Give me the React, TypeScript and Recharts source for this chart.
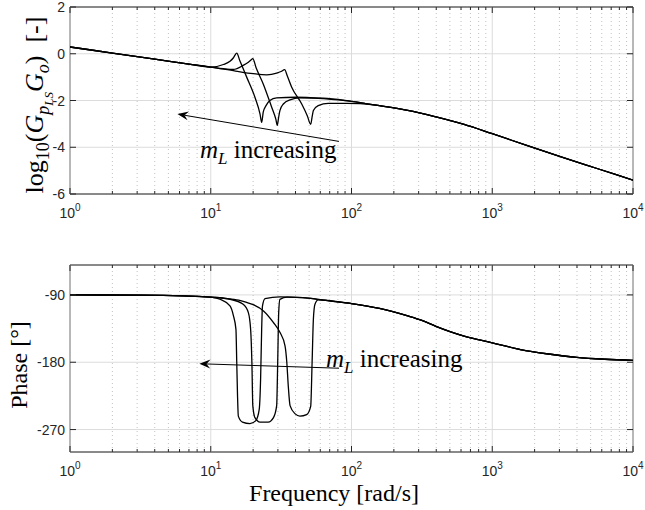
import React from "react";
import {
  LineChart,
  Line,
  XAxis,
  YAxis,
  CartesianGrid,
  ReferenceArea,
  ReferenceLine,
} from "recharts";

type Pt = [number, number];

// frequency ticks [rad/s]
const decades = [1, 10, 100, 1000, 10000];
const minorTicks = [
  2, 3, 4, 5, 6, 7, 8, 9, 20, 30, 40, 50, 60, 70, 80, 90, 200, 300, 400, 500,
  600, 700, 800, 900, 2000, 3000, 4000, 5000, 6000, 7000, 8000, 9000,
];
const allTicks = [...decades, ...minorTicks].sort((a, b) => a - b);

const magTicks = [-6, -4, -2, 0, 2];
const phaseTicks = [-270, -180, -90];

// log10 magnitude, [w, value]
const magLow: Pt[] = [[1, 0.29], [2, 0.03], [4, -0.23], [7, -0.44]];
const mag1: Pt[] = [
  [10, -0.57], [12.3, -0.46], [13.7, -0.32], [14.5, -0.17], [15.3, 0.03],
  [16.1, -0.3], [18, -1.0], [20.6, -1.86], [22.4, -2.58], [23, -2.94],
  [23.6, -2.5], [24.7, -2.22], [26.3, -2.0], [29.4, -1.89], [40, -1.86],
  [63, -1.92], [100, -2.04], [126, -2.13],
];
const mag2: Pt[] = [
  [10, -0.57], [12.3, -0.64], [14.5, -0.67], [17, -0.5], [18.5, -0.36],
  [19.3, -0.27], [19.9, -0.21], [21, -0.6], [23.6, -1.29], [27.1, -2.29],
  [29, -2.8], [29.7, -3.06], [30.3, -2.75], [31, -2.43], [32.8, -2.15],
  [36.6, -1.97], [43, -1.89], [63, -1.9], [100, -2.04], [126, -2.13],
];
const mag3: Pt[] = [
  [10, -0.57], [15, -0.74], [20, -0.85], [25, -0.9], [29.4, -0.83],
  [31.6, -0.76], [33.5, -0.68], [35, -0.95], [37.6, -1.43], [44.3, -2.15],
  [48.5, -2.65], [51.3, -3.02], [52.5, -2.7], [53.6, -2.43], [58, -2.22],
  [68.4, -2.12], [92.5, -2.12], [115, -2.13],
];
const magHigh: Pt[] = [
  [158, -2.22], [251, -2.42], [398, -2.7], [631, -3.02], [1000, -3.42],
  [1778, -3.93], [3162, -4.43], [5623, -4.92], [10000, -5.41],
];

// phase [deg], [w, value]
const phLow: Pt[] = [[1, -90], [3.16, -90.3], [6.3, -91.3], [10, -93]];
const ph1: Pt[] = [
  [11.6, -95.8], [13.7, -104.7], [14.5, -118], [15.1, -136], [15.3, -180],
  [15.5, -225], [15.7, -252], [16.8, -260], [19, -262], [20.9, -258],
  [22.1, -243], [22.6, -203], [23, -136], [23.3, -105], [24.3, -95],
  [31, -92.5], [45, -93.5], [56, -95.5],
];
const ph2: Pt[] = [
  [13.7, -95.8], [17, -102.5], [18.5, -113.6], [19.2, -136], [19.6, -180],
  [19.9, -238], [20.6, -254], [22.4, -260], [25.6, -260], [27.9, -254],
  [29.4, -238], [29.9, -180], [30.4, -113], [31, -96], [35, -93],
  [45, -93.5], [56, -95.5],
];
const ph3: Pt[] = [
  [12.6, -94.5], [15.8, -97], [18, -100], [20, -103], [23.7, -111.4],
  [27.9, -127], [31, -140], [33.7, -158], [34.7, -180], [35.5, -210],
  [36.6, -238], [39.8, -249], [43, -252], [48, -250], [51.3, -239],
  [52.5, -180], [53.6, -122.6], [55, -102.5], [58, -96.7],
];
const phHigh: Pt[] = [
  [63, -97], [100, -101.5], [158, -108], [251, -118], [316, -124],
  [398, -132], [501, -139], [631, -145], [1000, -154], [1585, -163],
  [2512, -169], [3981, -173.5], [6310, -176], [10000, -177.5],
];

const rows = (...parts: Pt[][]) => parts.flat().map(([w, v]) => ({ w, v }));

const magCurves = [
  rows(magLow, mag1, magHigh),
  rows(magLow, mag2, magHigh),
  rows(magLow, mag3, magHigh),
];
const phaseCurves = [
  rows(phLow, ph1, phHigh),
  rows(phLow, ph2, phHigh),
  rows(phLow, ph3, phHigh),
];

const INK = "#262626";
const PLOT_W = 563;
const PLOT_H = 187;
const SANS = "'Liberation Sans', Arial, sans-serif";
const SERIF = "'Liberation Serif', 'Times New Roman', serif";

function XTick(props: any) {
  const { x, y, payload } = props;
  const v = payload.value;
  const e = Math.round(Math.log10(v));
  const major = Math.abs(v - Math.pow(10, e)) < 1e-9;
  const len = major ? 6 : 3;
  return (
    <g>
      <line x1={x} x2={x} y1={y} y2={y - len} stroke={INK} />
      <line x1={x} x2={x} y1={y - PLOT_H} y2={y - PLOT_H + len} stroke={INK} />
      {major && (
        <text
          x={x}
          y={y + 24}
          textAnchor="middle"
          fontFamily={SANS}
          fontSize={14}
          fill={INK}
        >
          10
          <tspan dy={-7} fontSize={10}>
            {e}
          </tspan>
        </text>
      )}
    </g>
  );
}

function YTick(props: any) {
  const { x, y, payload } = props;
  return (
    <g>
      <line x1={x} x2={x + 6} y1={y} y2={y} stroke={INK} />
      <line x1={x + PLOT_W} x2={x + PLOT_W - 6} y1={y} y2={y} stroke={INK} />
      <text
        x={x - 5}
        y={y + 5}
        textAnchor="end"
        fontFamily={SANS}
        fontSize={14}
        fill={INK}
      >
        {payload.value}
      </text>
    </g>
  );
}

function arrowShape(tx: number, ty: number) {
  return (p: any) => {
    const { x1, y1, x2, y2 } = p;
    const a = Math.atan2(y2 - y1, x2 - x1);
    const c = Math.cos(a);
    const s = Math.sin(a);
    const L = 11;
    const hw = 4.5;
    const bx = x2 - L * c;
    const by = y2 - L * s;
    const nx = x2 - 0.65 * L * c;
    const ny = y2 - 0.65 * L * s;
    const d = `M${x2},${y2} L${bx - s * hw},${by + c * hw} L${nx},${ny} L${bx + s * hw},${by - c * hw} Z`;
    return (
      <g>
        <line x1={x1} y1={y1} x2={nx} y2={ny} stroke="#000" strokeWidth={1} />
        <path d={d} fill="#000" />
        <text x={x1 + tx} y={y1 + ty} fontFamily={SERIF} fontSize={25} fill="#000">
          <tspan fontStyle="italic">m</tspan>
          <tspan fontStyle="italic" fontSize={17} dy={6}>
            L
          </tspan>
          <tspan dy={-6}>{"\u00A0increasing"}</tspan>
        </text>
      </g>
    );
  };
}

type PanelProps = {
  curves: { w: number; v: number }[][];
  yDomain: [number, number];
  yTicks: number[];
  marginTop: number;
  arrow: { from: { x: number; y: number }; to: { x: number; y: number }; tx: number; ty: number };
};

function Panel({ curves, yDomain, yTicks, marginTop, arrow }: PanelProps) {
  return (
    <LineChart
      width={645}
      height={255}
      margin={{ top: marginTop, right: 12, left: 10, bottom: 255 - marginTop - PLOT_H - 30 }}
    >
      <XAxis
        dataKey="w"
        type="number"
        scale="log"
        domain={[1, 10000]}
        allowDataOverflow
        ticks={allTicks}
        interval={0}
        axisLine={false}
        tickLine={false}
        tickSize={0}
        tickMargin={0}
        height={30}
        tick={XTick}
      />
      <YAxis
        type="number"
        domain={yDomain}
        allowDataOverflow
        ticks={yTicks}
        interval={0}
        axisLine={false}
        tickLine={false}
        tickSize={0}
        tickMargin={0}
        width={60}
        tick={YTick}
      />
      <CartesianGrid vertical={false} stroke="#dcdcdc" />
      {minorTicks.map((t) => (
        <ReferenceLine key={`m${t}`} x={t} stroke="#c2c2c2" strokeDasharray="1 3" />
      ))}
      {decades.map((t) => (
        <ReferenceLine key={`d${t}`} x={t} stroke="#dcdcdc" />
      ))}
      {curves.map((d, i) => (
        <Line
          key={i}
          data={d}
          dataKey="v"
          type="monotone"
          stroke="#000"
          strokeWidth={1.3}
          dot={false}
          activeDot={false}
          isAnimationActive={false}
        />
      ))}
      <ReferenceArea
        x1={1}
        x2={10000}
        y1={yDomain[0]}
        y2={yDomain[1]}
        fill="none"
        stroke={INK}
        strokeWidth={1}
        ifOverflow="visible"
      />
      <ReferenceLine
        segment={[arrow.from, arrow.to]}
        ifOverflow="visible"
        shape={arrowShape(arrow.tx, arrow.ty)}
      />
    </LineChart>
  );
}

export default function App() {
  return (
    <div
      style={{
        position: "absolute",
        left: 0,
        top: 0,
        width: 645,
        height: 510,
        background: "#fff",
      }}
    >
      <div style={{ position: "absolute", left: 0, top: 0 }}>
        <Panel
          curves={magCurves}
          yDomain={[-6, 2]}
          yTicks={magTicks}
          marginTop={7}
          arrow={{ from: { x: 81.5, y: -3.75 }, to: { x: 5.8, y: -2.58 }, tx: -139, ty: 17 }}
        />
      </div>
      <div style={{ position: "absolute", left: 0, top: 255 }}>
        <Panel
          curves={phaseCurves}
          yDomain={[-300, -50]}
          yTicks={phaseTicks}
          marginTop={10}
          arrow={{ from: { x: 81.5, y: -188 }, to: { x: 8.3, y: -182 }, tx: -13, ty: -1 }}
        />
      </div>
      <svg
        width={645}
        height={510}
        style={{ position: "absolute", left: 0, top: 0, pointerEvents: "none" }}
        fontFamily={SERIF}
        fill="#000"
      >
        <text transform="rotate(-90)" x={-105} y={43} textAnchor="middle" fontSize={26}>
          log
          <tspan dy={6} fontSize={18}>10</tspan>
          <tspan dy={-6}>(</tspan>
          <tspan fontStyle="italic">G</tspan>
          <tspan fontStyle="italic" fontSize={18} dy={6}>p</tspan>
          <tspan fontStyle="italic" fontSize={13} dy={4}>LS</tspan>
          <tspan fontStyle="italic" dy={-10}>G</tspan>
          <tspan fontStyle="italic" fontSize={18} dy={6}>o</tspan>
          <tspan dy={-6}>)</tspan>
          <tspan>{"\u00A0\u00A0[-]"}</tspan>
        </text>
        <text transform="rotate(-90)" x={-365} y={27} textAnchor="middle" fontSize={24}>
          {"Phase [°]"}
        </text>
        <text x={334} y={501} textAnchor="middle" fontSize={24}>
          Frequency [rad/s]
        </text>
      </svg>
    </div>
  );
}
